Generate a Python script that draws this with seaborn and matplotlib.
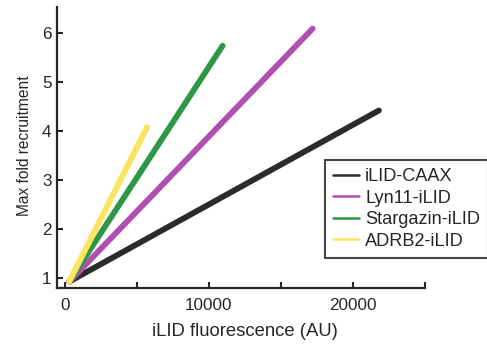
import matplotlib
matplotlib.use("Agg")
import matplotlib.pyplot as plt
import seaborn as sns
import pandas as pd

series = ["iLID-CAAX", "Lyn11-iLID", "Stargazin-iLID", "ADRB2-iLID"]
x_start = [300, 300, 300, 300]
y_start = [0.93, 0.93, 0.93, 0.93]
x_end = [21800, 17200, 10950, 5700]
y_end = [4.42, 6.09, 5.74, 4.08]
colors = ["#2b2b2b", "#b04eb4", "#2e9747", "#fde35e"]

x_ticks = [0, 5000, 10000, 15000, 20000, 25000]
x_ticklabels = ["0", "", "10000", "", "20000", ""]
y_ticks = [1, 2, 3, 4, 5, 6]

rows = []
for s, x0, y0, x1, y1 in zip(series, x_start, y_start, x_end, y_end):
    rows.append({"series": s, "x": x0, "y": y0})
    rows.append({"series": s, "x": x1, "y": y1})
df = pd.DataFrame(rows)

sns.set_style("ticks")
plt.rcParams["font.family"] = ["Liberation Sans", "DejaVu Sans"]

fig = plt.figure(figsize=(4.87, 3.51), dpi=100)
ax = fig.add_axes([57/487, 1-288/351, (425-57)/487, (288-7)/351])

sns.lineplot(data=df, x="x", y="y", hue="series", hue_order=series,
             palette=colors, linewidth=4.2, solid_capstyle="round",
             ax=ax, legend=True, sort=False)

ax.set_xlim(-550, 25000)
ax.set_ylim(0.8, 6.53)
ax.set_xticks(x_ticks)
ax.set_xticklabels(x_ticklabels)
ax.set_yticks(y_ticks)
ax.set_yticklabels([str(v) for v in y_ticks])
ax.tick_params(direction="in", length=4, width=1.5, colors="#262626",
               labelsize=12.3)
ax.tick_params(axis="y", pad=4)
ax.tick_params(axis="x", pad=7)
for side in ["right", "top"]:
    ax.spines[side].set_visible(False)
for side in ["left", "bottom"]:
    ax.spines[side].set_linewidth(1.6)
    ax.spines[side].set_color("#262626")

ax.set_xlabel("iLID fluorescence (AU)", fontsize=13.3, color="#262626")
ax.set_ylabel("Max fold recruitment", fontsize=11.2, color="#262626")
ax.xaxis.set_label_coords((244.5-57)/368, (288-331)/281)
ax.xaxis.label.set_va("center")
ax.yaxis.set_label_coords((25-57)/368, (288-146)/281)
ax.yaxis.label.set_va("center")

handles, labels = ax.get_legend_handles_labels()
leg = ax.legend(handles, labels, loc="upper left",
                bbox_to_anchor=(325/487, 1-160/351), bbox_transform=fig.transFigure,
                frameon=True, fancybox=False, fontsize=13.1,
                handlelength=1.4, handletextpad=0.35, borderpad=0.45,
                labelspacing=0.25, borderaxespad=0)
leg.get_frame().set_edgecolor("#1a1a1a")
leg.get_frame().set_linewidth(1.5)
for ln in leg.get_lines():
    ln.set_linewidth(1.8)

fig.savefig("out.png", dpi=100)
